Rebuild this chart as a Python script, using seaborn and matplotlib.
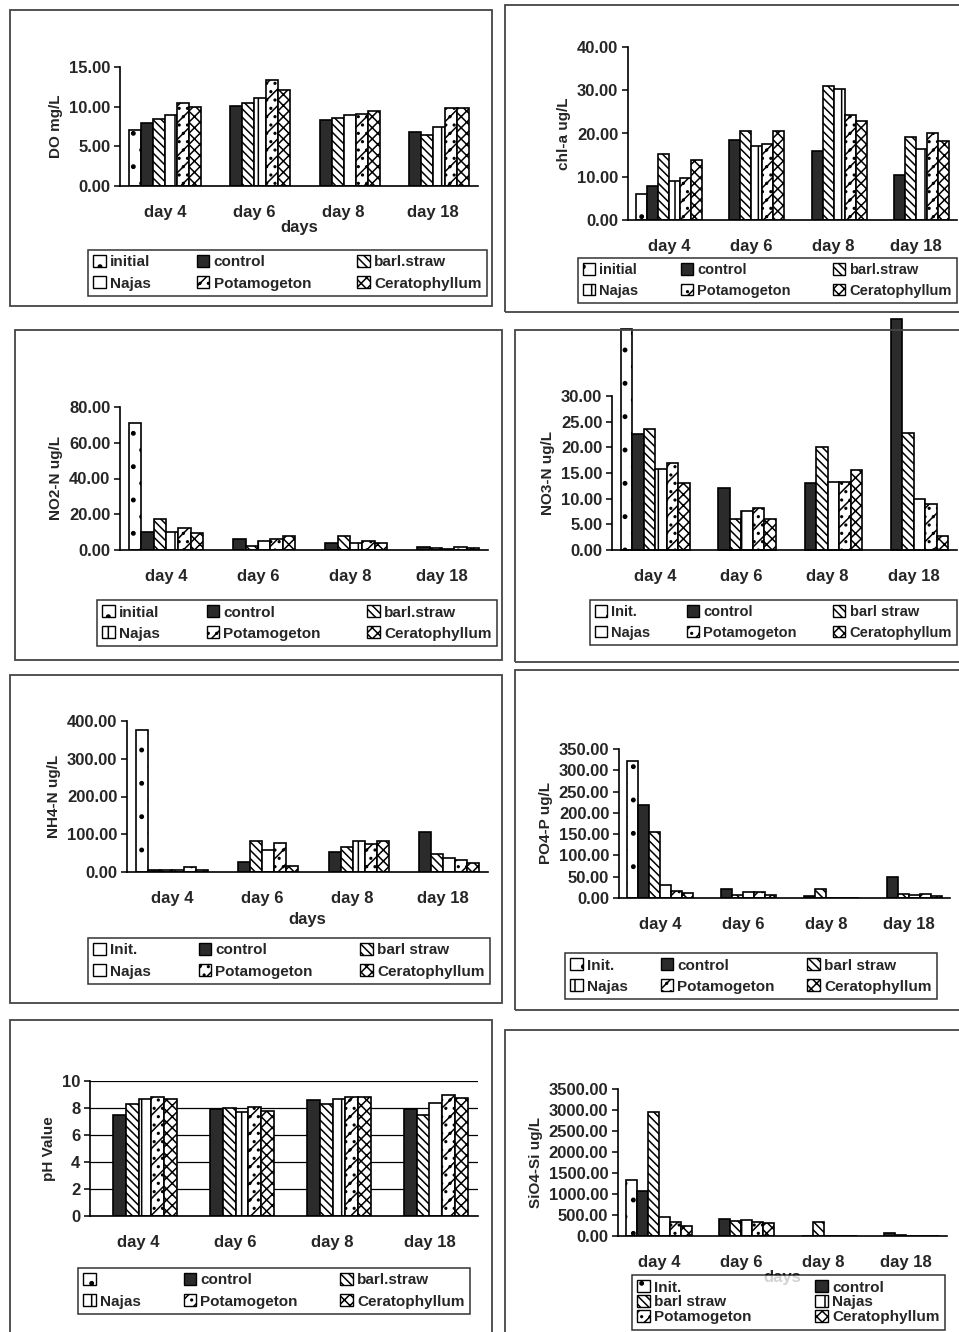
import numpy as np
import pandas as pd
import matplotlib
matplotlib.use('Agg')
import matplotlib.pyplot as plt
from matplotlib.patches import Patch, Rectangle
from matplotlib.colors import to_rgba
import seaborn as sns

nan = np.nan
days = ['day 4', 'day 6', 'day 8', 'day 18']
treatments = ['initial', 'control', 'barl.straw', 'Najas', 'Potamogeton', 'Ceratophyllum']

# rows follow the treatment order, columns the days
do_mg = [[7.0, nan, nan, nan], [7.9, 10.1, 8.3, 6.8], [8.4, 10.4, 8.6, 6.4],
         [9.0, 11.1, 8.9, 7.5], [10.4, 13.3, 9.1, 9.8], [9.9, 12.1, 9.5, 9.8]]
chla = [[5.9, nan, nan, nan], [7.9, 18.5, 16.0, 10.3], [15.2, 20.5, 31.0, 19.3],
        [9.1, 17.0, 30.3, 16.5], [9.8, 17.5, 24.3, 20.2], [13.9, 20.5, 22.8, 18.3]]
no2 = [[71.0, nan, nan, nan], [10.2, 6.1, 4.1, 1.9], [17.3, 2.4, 7.8, 0.9],
       [10.2, 5.2, 3.7, 0.8], [12.5, 6.0, 5.0, 1.7], [9.3, 8.0, 3.7, 0.9]]
no3 = [[43.0, nan, nan, nan], [22.6, 12.0, 13.0, 45.0], [23.5, 6.0, 20.0, 22.7],
       [15.8, 7.6, 13.2, 9.9], [17.0, 8.1, 13.2, 8.9], [13.0, 6.0, 15.6, 2.8]]
nh4 = [[376, nan, nan, nan], [6, 26, 52, 105], [6, 81, 65, 48],
       [6, 57, 83, 38], [12, 78, 74, 33], [6, 17, 83, 23]]
po4 = [[321, nan, nan, nan], [219, 21, 5, 49], [154, 8, 21, 10],
       [30, 14, 1, 7], [17, 14, 1, 10], [12, 6, 1, 5]]
ph = [[nan, nan, nan, nan], [7.5, 7.9, 8.6, 7.9], [8.27, 7.97, 8.3, 7.5],
      [8.66, 7.67, 8.66, 8.34], [8.84, 8.04, 8.84, 8.96], [8.66, 7.8, 8.84, 8.76]]
sio4 = [[1336, nan, nan, nan], [1074, 414, 8, 80], [2943, 350, 326, 30],
        [445, 374, 5, 5], [334, 334, 5, 5], [247, 318, 5, 5]]

labels_a = ['initial', 'control', 'barl.straw', 'Najas', 'Potamogeton', 'Ceratophyllum']
labels_b = ['Init.', 'control', 'barl straw', 'Najas', 'Potamogeton', 'Ceratophyllum']
labels_ph = ['', 'control', 'barl.straw', 'Najas', 'Potamogeton', 'Ceratophyllum']

sns.set_style('white')
plt.rcParams['font.family'] = ['Liberation Sans', 'DejaVu Sans']
plt.rcParams['font.weight'] = 'bold'
plt.rcParams['hatch.linewidth'] = 1.1

W, H = 959, 1332
fig = plt.figure(figsize=(9.59, 13.32), dpi=100)

# colour keys only used to find each bar's treatment afterwards
keys = ['#ffffff', '#2b2b2b', '#fefefe', '#fdfdfd', '#fcfcfc', '#fbfbfb']
palette = dict(zip(treatments, keys))
styles = {
    'initial': ('white', '.'),
    'control': ('#2b2b2b', ''),
    'barl.straw': ('white', '\\\\\\\\'),
    'Najas': ('white', '|'),
    'Potamogeton': ('white', '//..'),
    'Ceratophyllum': ('white', 'xxx'),
}


def fax(x0, y0, x1, y1):
    return fig.add_axes([x0 / W, 1 - y1 / H, (x1 - x0) / W, (y1 - y0) / H])


def box(x0, y0, x1, y1):
    fig.add_artist(Rectangle((x0 / W, 1 - y1 / H), (x1 - x0) / W, (y1 - y0) / H,
                             transform=fig.transFigure, fill=False, ec='#444444', lw=1.3))


def panel(ax, values, ylabel, yticks, fmt, labels, leg, ncol, xlabel=None, grid=False, clip=True,
          legsize=11, xpad=0):
    rows = []
    for i, t in enumerate(treatments):
        for j, d in enumerate(days):
            rows.append({'day': d, 'treatment': t, 'value': values[i][j]})
    df = pd.DataFrame(rows)
    sns.barplot(data=df, x='day', y='value', hue='treatment', order=days, hue_order=treatments,
                palette=palette, errorbar=None, width=0.8, edgecolor='black', linewidth=1.2,
                legend=False, ax=ax)
    for p in ax.patches:
        fc = p.get_facecolor()
        for t, k in palette.items():
            if np.allclose(fc, to_rgba(k), atol=1e-3):
                col, hatch = styles[t]
                p.set_facecolor(col)
                p.set_hatch(hatch)
                p.set_edgecolor('black')
                break
        p.set_clip_on(clip)
    ax.set_ylim(yticks[0], yticks[-1])
    ax.set_yticks(yticks)
    ax.set_yticklabels([fmt.format(v) for v in yticks], fontsize=12, fontweight='bold')
    ax.set_xlim(-0.5, 3.5)
    ax.set_xticks(range(4))
    ax.set_xticklabels(days, fontsize=12, fontweight='bold')
    ax.set_xticks([-0.5, 0.5, 1.5, 2.5, 3.5], minor=True)
    ax.tick_params(axis='x', which='major', length=0, pad=14)
    ax.tick_params(axis='x', which='minor', length=4, width=1.1, direction='out', color='black')
    ax.tick_params(axis='y', length=4, width=1.1, direction='out', color='black', left=True, pad=3)
    ax.set_ylabel(ylabel, fontsize=11, fontweight='bold')
    ax.set_xlabel(xlabel if xlabel else '', fontsize=12, fontweight='bold', labelpad=xpad)
    for s in ['top', 'right']:
        ax.spines[s].set_visible(False)
    for s in ['left', 'bottom']:
        ax.spines[s].set_color('black')
        ax.spines[s].set_linewidth(1.2)
    if grid:
        ax.yaxis.grid(True, color='black', lw=0.9)
        ax.set_axisbelow(True)
    handles = [Patch(facecolor=styles[t][0], hatch=styles[t][1], edgecolor='black', lw=1.0)
               for t in treatments]
    if ncol == 3:
        order = [0, 3, 1, 4, 2, 5]
    else:
        order = [0, 2, 4, 1, 3, 5]
    x0, y0, x1, y1 = leg
    lg = fig.legend([handles[i] for i in order], [labels[i] for i in order],
                    loc='upper left', bbox_to_anchor=(x0 / W, 1 - y1 / H, (x1 - x0) / W, (y1 - y0) / H),
                    mode='expand', ncol=ncol, fancybox=False, frameon=True, borderaxespad=0,
                    handlelength=0.8, handleheight=0.8, handletextpad=0.3,
                    labelspacing=0.45 if ncol == 3 else 0.05,
                    prop={'size': legsize, 'weight': 'bold'}, borderpad=0.35)
    lg.get_frame().set_edgecolor('black')
    lg.get_frame().set_linewidth(1.1)


# panel frames
box(10, 10, 492, 306)
box(505, 5, 962, 312)
box(15, 330, 502, 660)
box(515, 330, 962, 662)
box(10, 675, 502, 1003)
box(515, 670, 962, 1010)
box(10, 1020, 492, 1335)
box(505, 1030, 962, 1335)

ax1 = fax(120, 67, 478, 186)
panel(ax1, do_mg, 'DO mg/L', [0, 5, 10, 15], '{:.2f}', labels_a, (88, 250, 487, 303), 3, xlabel='days')

ax2 = fax(628, 47, 957, 220)
panel(ax2, chla, 'chl-a ug/L', [0, 10, 20, 30, 40], '{:.2f}', labels_a, (578, 258, 957, 312), 3,
      legsize=10.5)

ax3 = fax(120, 407, 488, 550)
panel(ax3, no2, 'NO2-N ug/L', [0, 20, 40, 60, 80], '{:.2f}', labels_a, (97, 600, 497, 658), 3)

ax4 = fax(612, 396, 957, 550)
panel(ax4, no3, 'NO3-N ug/L', [0, 5, 10, 15, 20, 25, 30], '{:.2f}', labels_b, (590, 600, 957, 660), 3,
      clip=False, legsize=10.5)

ax5 = fax(127, 721, 488, 872)
panel(ax5, nh4, 'NH4-N ug/L', [0, 100, 200, 300, 400], '{:.2f}', labels_b, (88, 938, 490, 995), 3,
      xlabel='days', xpad=4)

ax6 = fax(619, 749, 950, 898)
panel(ax6, po4, 'PO4-P ug/L', [0, 50, 100, 150, 200, 250, 300, 350], '{:.2f}', labels_b,
      (565, 953, 937, 1007), 3)

ax7 = fax(90, 1081, 478, 1216)
panel(ax7, ph, 'pH Value', [0, 2, 4, 6, 8, 10], '{:.0f}', labels_ph, (78, 1268, 470, 1325), 3, grid=True)

ax8 = fax(618, 1089, 947, 1236)
panel(ax8, sio4, 'SiO4-Si ug/L', [0, 500, 1000, 1500, 2000, 2500, 3000, 3500], '{:.2f}', labels_b,
      (632, 1275, 945, 1330), 2, xlabel='days')

fig.savefig('out.png', dpi=100)
